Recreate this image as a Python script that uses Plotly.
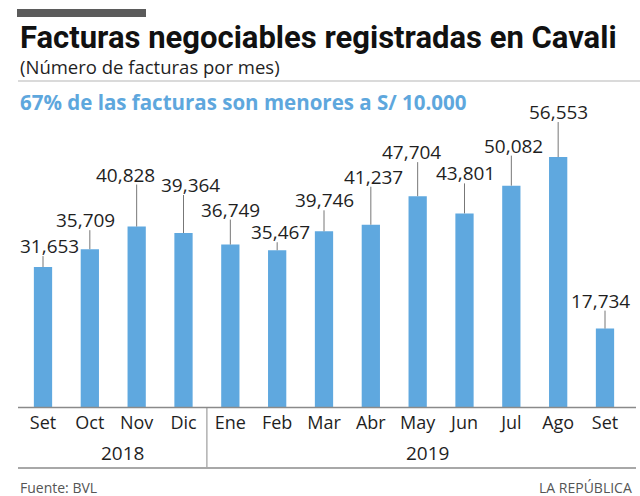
import plotly.graph_objects as go

# ---- data ----
months = ["Set", "Oct", "Nov", "Dic", "Ene", "Feb", "Mar", "Abr", "May", "Jun", "Jul", "Ago", "Set"]
values = [31653, 35709, 40828, 39364, 36749, 35467, 39746, 41237, 47704, 43801, 50082, 56553, 17734]
years = ["2018", "2019"]

# ---- label placement (pixels) ----
label_dy = [21, 29, 52, 48, 35, 18, 31, 48, 44, 40, 40, 45, 28]
label_dx = [6, -4, -11, 7, 0, 3, 0, 3, -6, 1, 2, 0, -5]
year_pos = [1.7, 8.2]
sep_pos = 3.5

W, H = 640, 496
m_l, m_r, m_t, m_b = 18, 4, 120, 89
plot_h = H - m_t - m_b
px_per_unit = 4.42 / 1000
ymax = plot_h / px_per_unit

BAR = "#5fa8df"
TXT = "#1f1f1f"
FONT = "Open Sans"


def py(p):
    return (H - m_b - p) / plot_h


def px(p):
    return (p - m_l) / (W - m_l - m_r)


x = list(range(len(months)))
fig = go.Figure(go.Bar(x=x, y=values, marker=dict(color=BAR, line=dict(width=0)),
                       width=0.39, hoverinfo="skip"))

ann = []
shapes = []
for i, v in enumerate(values):
    ann.append(dict(x=i, y=v, xref="x", yref="y", text=f"{v:,}", showarrow=False,
                    xanchor="center", yanchor="middle", xshift=label_dx[i], yshift=label_dy[i],
                    font=dict(family=FONT, size=19, color=TXT)))
    shapes.append(dict(type="line", xref="x", yref="y", ysizemode="pixel", yanchor=v,
                       x0=i, x1=i, y0=0, y1=label_dy[i] - 10,
                       line=dict(color="#777777", width=1)))

for xp, yr in zip(year_pos, years):
    ann.append(dict(x=xp, y=py(453), xref="x", yref="paper", text=yr, showarrow=False,
                    font=dict(family=FONT, size=19, color=TXT), yanchor="middle"))

ann += [
    dict(x=px(18), y=py(58), xref="paper", yref="paper", xanchor="left", yanchor="bottom",
         text="<b>Facturas negociables registradas en Cavali</b>", showarrow=False,
         font=dict(family="Roboto", size=31, color="#111111")),
    dict(x=px(18), y=py(66), xref="paper", yref="paper", xanchor="left", yanchor="middle",
         text="(Número de facturas por mes)", showarrow=False,
         font=dict(family=FONT, size=18.5, color=TXT)),
    dict(x=px(18), y=py(102), xref="paper", yref="paper", xanchor="left", yanchor="middle",
         text="<b>67% de las facturas son menores a S/ 10.000</b>", showarrow=False,
         font=dict(family=FONT, size=20.5, color="#5ea7dd")),
    dict(x=px(18), y=py(487), xref="paper", yref="paper", xanchor="left", yanchor="middle",
         text="Fuente: BVL", showarrow=False, font=dict(family=FONT, size=14, color="#555555")),
    dict(x=px(634), y=py(487), xref="paper", yref="paper", xanchor="right", yanchor="middle",
         text="LA REPÚBLICA", showarrow=False, font=dict(family=FONT, size=14, color="#555555")),
]

shapes += [
    dict(type="rect", xref="paper", yref="paper", x0=px(17), x1=px(146), y0=py(9), y1=py(17),
         fillcolor="#5b5b5b", line=dict(width=0)),
    dict(type="line", xref="paper", yref="paper", x0=px(18), x1=px(640), y0=py(81), y1=py(81),
         line=dict(color="#b5b5b5", width=1)),
    dict(type="line", xref="paper", yref="paper", x0=px(18), x1=px(636), y0=py(407.5), y1=py(407.5),
         line=dict(color="#8a8a8a", width=1.5)),
    dict(type="line", xref="paper", yref="paper", x0=px(18), x1=px(636), y0=py(468), y1=py(468),
         line=dict(color="#a8a8a8", width=2)),
    dict(type="line", xref="x", yref="paper", x0=sep_pos, x1=sep_pos, y0=py(407), y1=py(467),
         line=dict(color="#8a8a8a", width=1)),
]

x0 = -(43 - m_l) / 46.83
x1 = 12 + (W - m_r - 605) / 46.83

fig.update_layout(
    width=W, height=H, margin=dict(l=m_l, r=m_r, t=m_t, b=m_b, pad=0),
    paper_bgcolor="white", plot_bgcolor="white", showlegend=False,
    xaxis=dict(range=[x0, x1], tickmode="array", tickvals=x, ticktext=months,
               showgrid=False, zeroline=False, showline=False, ticks="",
               ticklabelstandoff=3,
               tickfont=dict(family=FONT, size=18, color=TXT), fixedrange=True),
    yaxis=dict(range=[0, ymax], visible=False, showgrid=False, zeroline=False, fixedrange=True),
    annotations=ann, shapes=shapes,
)

fig.write_html("out.html", config={"displayModeBar": False},
               post_script="document.body.style.margin='0';document.body.style.padding='0';")
